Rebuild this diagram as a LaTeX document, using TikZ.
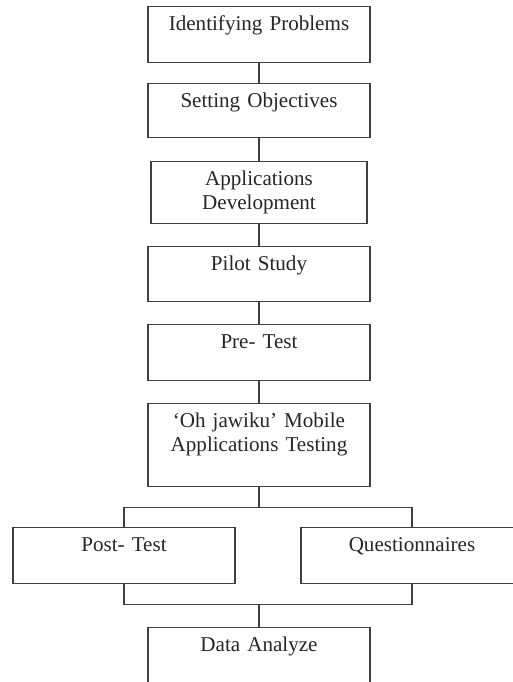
\documentclass[tikz,border=0pt]{standalone}
\usepackage{fontspec}
\setmainfont{Liberation Serif}
\usetikzlibrary{positioning}

\begin{document}
\begin{tikzpicture}[node distance=0.66cm,
		stepbox/.style={rectangle,draw=black!75,line width=0.9pt,text=black!85,font=\fontsize{18}{20}\selectfont,text width=6.06cm,inner xsep=0.3cm,inner ysep=0pt,align=center,text height=0.72cm,text depth=0.96cm},
		link/.style={draw=black!75,line width=0.9pt}]
		\clip (-7.77,0.18) rectangle (7.62,-20.28);
		
		\node[stepbox, anchor=north] (ident) at (0,0) {Identifying Problems};
		\node[stepbox, below=0.6cm of ident, text depth=0.90cm] (setobj) {Setting Objectives};
		\node[stepbox, below=0.69cm of setobj, text width=5.88cm, text depth=1.14cm] (appdev) {Applications \\ Development};
		\node[stepbox, below=of appdev, text depth=0.93cm] (pilot) {Pilot Study};
		\node[stepbox, below=of pilot] (pretest) {Pre- Test};
		\node[stepbox, below=of pretest, text depth=1.77cm] (testing) {`Oh jawiku' Mobile \\ Applications Testing};
		
		\node[stepbox, below=1.2cm of testing, xshift=-4.05cm] (posttest) {Post- Test};
		\node[stepbox, below=1.2cm of testing, xshift=4.59cm] (quest) {Questionnaires};
		
		\node[stepbox, below=1.29cm of posttest, xshift=4.05cm] (data) {Data Analyze};
		
		\coordinate (fork) at ([yshift=-0.6cm]testing.south);
		\coordinate (join) at ([yshift=0.68cm]data.north);
		
		\draw[link] (ident) -- (setobj);
		\draw[link] (setobj) -- (appdev);
		\draw[link] (appdev) -- (pilot);
		\draw[link] (pilot) -- (pretest);
		\draw[link] (pretest) -- (testing);
		
		\draw[link] (testing) -- (fork);
		\draw[link] (posttest.north) |- (fork) -| (quest.north);
		\draw[link] (posttest.south) |- (join) -| (quest.south);
		\draw[link] (join) -- (data);

	\end{tikzpicture}
\end{document}
